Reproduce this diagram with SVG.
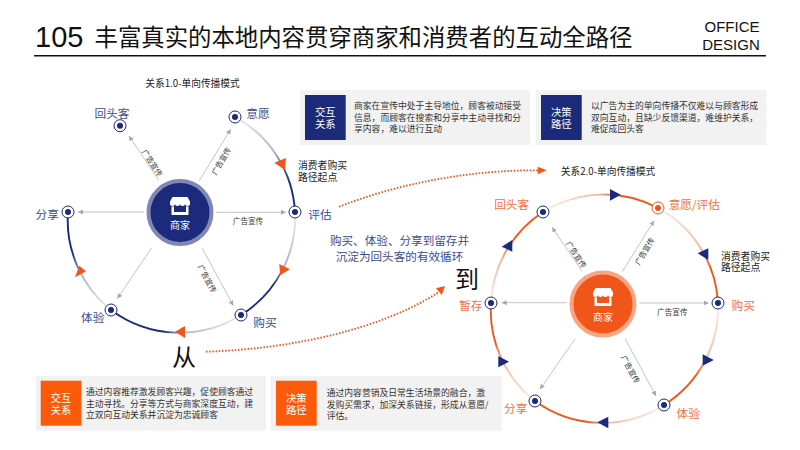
<svg xmlns="http://www.w3.org/2000/svg" width="800" height="450" viewBox="0 0 800 450">
<style>
text{font-family:"Liberation Sans","Noto Sans CJK SC",sans-serif}
.cn{font-family:"Noto Sans CJK SC","Liberation Sans",sans-serif}
.lab{font-size:11.7px;text-anchor:middle;dominant-baseline:central}
.nv{fill:#3d4b8f}
.or{fill:#f4703a}
.ad{font-size:7.6px;fill:#333;text-anchor:middle;dominant-baseline:central}
.spoke{stroke:#b5b5b5;stroke-width:.8;fill:none;marker-end:url(#g)}
.arc{fill:none;stroke-width:1.9}
.card{fill:#f2f2f2}
.body{font-size:8.8px;fill:#333}
.tag{font-size:10.4px;fill:#fff;text-anchor:middle}
.note{font-size:9.8px;fill:#222}
.dot{fill:none;stroke:#f0561a;stroke-width:1.8;stroke-dasharray:1.6 1.6}
</style>
<defs>
<marker id="g" markerUnits="userSpaceOnUse" markerWidth="6" markerHeight="6" refX="5" refY="2.5" orient="auto"><path d="M0 0L5 2.5L0 5Z" fill="#a8a8a8"/></marker>
<g id="store">
<path d="M-10 -7.5L-7.5 -12H7.5L10 -7.5V-5.5A2.5 2.5 0 0 1 5 -5.5A2.5 2.5 0 0 1 0 -5.5A2.5 2.5 0 0 1 -5 -5.5A2.5 2.5 0 0 1 -10 -5.5Z" fill="#fff"/>
<path d="M-8.5 -2.6V6H8.5V-2.6H6V3H-6V-2.6Z" fill="#fff"/>
</g>
<g id="mn"><circle r="6" fill="#fff" stroke="#1b2a7b" stroke-width="1"/><circle r="3" fill="#1b2a7b"/></g>
<g id="mo"><circle r="6" fill="#fff" stroke="#f0561a" stroke-width="1"/><circle r="3" fill="#f0561a"/></g>
<linearGradient id="n1" gradientUnits="userSpaceOnUse" x1="235" y1="117" x2="295" y2="212"><stop offset="0" stop-color="#eceef5"/><stop offset=".45" stop-color="#a9afcf"/><stop offset=".75" stop-color="#1b2a7b"/></linearGradient>
<linearGradient id="n2" gradientUnits="userSpaceOnUse" x1="295" y1="212" x2="241" y2="315"><stop offset="0" stop-color="#eceef5"/><stop offset=".45" stop-color="#a9afcf"/><stop offset=".65" stop-color="#1b2a7b"/></linearGradient>
<linearGradient id="n3" gradientUnits="userSpaceOnUse" x1="241" y1="315" x2="111" y2="310"><stop offset="0" stop-color="#eceef5"/><stop offset=".45" stop-color="#a9afcf"/><stop offset=".6" stop-color="#1b2a7b"/></linearGradient>
<linearGradient id="n4" gradientUnits="userSpaceOnUse" x1="111" y1="310" x2="68" y2="212"><stop offset="0" stop-color="#eceef5"/><stop offset=".4" stop-color="#a9afcf"/><stop offset=".65" stop-color="#1b2a7b"/></linearGradient>
<linearGradient id="o1" gradientUnits="userSpaceOnUse" x1="543" y1="212" x2="658" y2="208"><stop offset="0" stop-color="#fdeee6"/><stop offset=".5" stop-color="#f8b598"/><stop offset=".65" stop-color="#f0561a"/></linearGradient>
<linearGradient id="o2" gradientUnits="userSpaceOnUse" x1="658" y1="208" x2="718" y2="303"><stop offset="0" stop-color="#fdeee6"/><stop offset=".5" stop-color="#f8b598"/><stop offset=".7" stop-color="#f0561a"/></linearGradient>
<linearGradient id="o3" gradientUnits="userSpaceOnUse" x1="718" y1="303" x2="664" y2="405"><stop offset="0" stop-color="#fdeee6"/><stop offset=".5" stop-color="#f8b598"/><stop offset=".65" stop-color="#f0561a"/></linearGradient>
<linearGradient id="o4" gradientUnits="userSpaceOnUse" x1="664" y1="405" x2="535" y2="401"><stop offset="0" stop-color="#fdeee6"/><stop offset=".45" stop-color="#f8b598"/><stop offset=".6" stop-color="#f0561a"/></linearGradient>
<linearGradient id="o5" gradientUnits="userSpaceOnUse" x1="535" y1="401" x2="491" y2="303"><stop offset="0" stop-color="#fdeee6"/><stop offset=".45" stop-color="#f8b598"/><stop offset=".65" stop-color="#f0561a"/></linearGradient>
<linearGradient id="o6" gradientUnits="userSpaceOnUse" x1="491" y1="303" x2="543" y2="212"><stop offset="0" stop-color="#fdeee6"/><stop offset=".4" stop-color="#f8b598"/><stop offset=".65" stop-color="#f0561a"/></linearGradient>
</defs>
<rect width="800" height="450" fill="#fff"/>
<g id="header">
<text x="35" y="47" font-size="29" fill="#111">105</text>
<text x="94.5" y="46" class="cn" font-size="23.4" fill="#111">丰富真实的本地内容贯穿商家和消费者的互动全路径</text>
<text x="732" y="32" font-size="15" fill="#111" text-anchor="middle">OFFICE</text>
<text x="731" y="50" font-size="15" fill="#111" text-anchor="middle">DESIGN</text>
<rect x="34" y="55" width="732" height="1.5" fill="#111"/>
</g>
<g id="connectors">
<path class="arc" stroke="url(#n1)" d="M235 117A115 115 0 0 1 295 212"/>
<path class="arc" stroke="url(#n2)" d="M295 212A115 115 0 0 1 241 315"/>
<path class="arc" stroke="url(#n3)" d="M241 315A115 115 0 0 1 111 310"/>
<path class="arc" stroke="url(#n4)" d="M111 310A115 115 0 0 1 68 212"/>
<path class="arc" stroke="url(#o1)" d="M543 212A115 115 0 0 1 658 208"/>
<path class="arc" stroke="url(#o2)" d="M658 208A115 115 0 0 1 718 303"/>
<path class="arc" stroke="url(#o3)" d="M718 303A115 115 0 0 1 664 405"/>
<path class="arc" stroke="url(#o4)" d="M664 405A115 115 0 0 1 535 401"/>
<path class="arc" stroke="url(#o5)" d="M535 401A115 115 0 0 1 491 303"/>
<path class="arc" stroke="url(#o6)" d="M491 303A115 115 0 0 1 543 212"/>
<path class="spoke" d="M216 212.3H286"/>
<path class="spoke" d="M144 212H78"/>
<path class="spoke" d="M199.3 180.7L230.7 129.3"/>
<path class="spoke" d="M158.7 180L129 136"/>
<path class="spoke" d="M151.7 247.7L117.3 298.7"/>
<path class="spoke" d="M202.3 248.3L233.3 305.7"/>
<path class="spoke" d="M639.3 303H708.7"/>
<path class="spoke" d="M566.7 302.7H501.7"/>
<path class="spoke" d="M622.3 271.7L654 220.7"/>
<path class="spoke" d="M582 271L552 227.3"/>
<path class="spoke" d="M575 339L540 389.3"/>
<path class="spoke" d="M625.3 339L656 396"/>
<text class="ad cn" x="248" y="220.7">广告宣传</text>
<text class="ad cn" transform="translate(152.7 162.7) rotate(57)">广告宣传</text>
<text class="ad cn" transform="translate(220.7 160.7) rotate(-59)">广告宣传</text>
<text class="ad cn" transform="translate(207.7 278.3) rotate(62)">广告宣传</text>
<text class="ad cn" x="672.3" y="311">广告宣传</text>
<text class="ad cn" transform="translate(576.7 254.3) rotate(57)">广告宣传</text>
<text class="ad cn" transform="translate(644 251) rotate(-59)">广告宣传</text>
<text class="ad cn" transform="translate(631 369) rotate(62)">广告宣传</text>
<g fill="#f0561a">
<path d="M274.3 162.7L286 158L285 170Z"/>
<path d="M279.3 264L290 269.3L280 275.3Z"/>
<path d="M175 331.7L185 326V338Z"/>
<path d="M79.3 265.7L86 271.3L75 277.3Z"/>
</g>
<g fill="#1b2a7b">
<path d="M610 189L620.7 194.7L610 200.7Z"/>
<path d="M697.7 253.3L708.3 248.3V260Z"/>
<path d="M702.7 354.3L713.7 360L702.7 365.7Z"/>
<path d="M597.3 422.3L608.3 416.7V428.3Z"/>
<path d="M498.3 356L509 361.7L498.3 367.3Z"/>
<path d="M501.7 246.7L512.3 240V251.7Z"/>
</g>
<path class="dot" d="M339 206.7C400 183 470 170 538 170.3"/>
<path d="M546.7 170.3L537.7 166.7V174.3Z" fill="#f0561a"/>
<path class="dot" d="M206 351.7C290 349 380 330 439 292"/>
<path d="M445 286L441.7 295L436 288.3Z" fill="#f0561a"/>
</g>
<g id="merchant-1"><circle cx="180" cy="212.5" r="31.5" fill="#1b2a7b" stroke="#8087b5" stroke-width="4"/><use href="#store" x="180" y="209"/><text class="cn" x="180" y="224.3" font-size="10" fill="#fff" text-anchor="middle" dominant-baseline="central">商家</text></g>
<g id="merchant-2"><circle cx="603" cy="304" r="31.5" fill="#f0561a" stroke="#f9a583" stroke-width="4"/><use href="#store" x="603" y="300"/><text class="cn" x="603" y="316.7" font-size="10" fill="#fff" text-anchor="middle" dominant-baseline="central">商家</text></g>
<g id="n-huitou"><use href="#mn" x="120" y="125.7"/><text class="lab nv cn" x="112" y="112.7">回头客</text></g>
<g id="n-yiyuan"><use href="#mn" x="235" y="117"/><text class="lab nv cn" x="258" y="112">意愿</text></g>
<g id="n-pinggu"><use href="#mn" x="295" y="212"/><text class="lab nv cn" x="320" y="213">评估</text></g>
<g id="n-goumai"><use href="#mn" x="241" y="315"/><text class="lab nv cn" x="265" y="321.7">购买</text></g>
<g id="n-tiyan"><use href="#mn" x="111" y="310"/><text class="lab nv cn" x="92.7" y="316.7">体验</text></g>
<g id="n-fenxiang"><use href="#mn" x="68" y="212"/><text class="lab nv cn" x="47.3" y="213">分享</text></g>
<g id="m-huitou"><use href="#mn" x="543" y="212"/><text class="lab or cn" x="511.7" y="203.3">回头客</text></g>
<g id="m-yiyuan"><use href="#mo" x="658" y="208"/><text class="lab or cn" x="694.3" y="203.3">意愿/评估</text></g>
<g id="m-goumai"><use href="#mn" x="718" y="303"/><text class="lab or cn" x="743.3" y="304.3">购买</text></g>
<g id="m-tiyan"><use href="#mn" x="664" y="405"/><text class="lab or cn" x="688.3" y="412.3">体验</text></g>
<g id="m-fenxiang"><use href="#mn" x="535" y="401"/><text class="lab or cn" x="515.7" y="407.7">分享</text></g>
<g id="m-zancun"><use href="#mn" x="491" y="303"/><text class="lab or cn" x="470.7" y="304.3">暂存</text></g>
<g id="captions">
<text class="cn" x="192.5" y="83" font-size="9.7" fill="#222" text-anchor="middle" dominant-baseline="central">关系1.0-单向传播模式</text>
<text class="cn" x="608" y="171" font-size="9.7" fill="#222" text-anchor="middle" dominant-baseline="central">关系2.0-单向传播模式</text>
<text class="note cn"><tspan x="298" y="169">消费者购买</tspan><tspan x="298" y="181">路径起点</tspan></text>
<text class="note cn"><tspan x="721" y="259.5">消费者购买</tspan><tspan x="721" y="271">路径起点</tspan></text>
<text class="cn" font-size="11.6" fill="#3d4b8f" text-anchor="middle"><tspan x="399.5" y="245">购买、体验、分享到留存并</tspan><tspan x="399.5" y="261">沉淀为回头客的有效循环</tspan></text>
<text class="cn" x="184" y="366" font-size="24" fill="#111" text-anchor="middle">从</text>
<text class="cn" x="467" y="288" font-size="24" fill="#111" text-anchor="middle">到</text>
</g>
<g id="card-1"><rect class="card" x="300" y="90" width="230" height="55"/><rect x="305" y="95" width="40.7" height="45" fill="#1b2a7b"/><text class="tag cn"><tspan x="325.3" y="115.5">交互</tspan><tspan x="325.3" y="128">关系</tspan></text>
<text class="body cn"><tspan x="354" y="108.5">商家在宣传中处于主导地位，顾客被动接受</tspan><tspan x="354" y="120.5">信息，而顾客在搜索和分享中主动寻找和分</tspan><tspan x="354" y="132">享内容，难以进行互动</tspan></text></g>
<g id="card-2"><rect class="card" x="535.7" y="90" width="231" height="55"/><rect x="541" y="95" width="40.7" height="45" fill="#1b2a7b"/><text class="tag cn"><tspan x="561.3" y="115.5">决策</tspan><tspan x="561.3" y="128">路径</tspan></text>
<text class="body cn"><tspan x="591" y="108.5">以广告为主的单向传播不仅难以与顾客形成</tspan><tspan x="591" y="120.5">双向互动，且缺少反馈渠道，难维护关系，</tspan><tspan x="591" y="132">难促成回头客</tspan></text></g>
<g id="card-3"><rect class="card" x="35.7" y="376" width="230.5" height="54.7"/><rect x="40.7" y="380.7" width="40.7" height="45" fill="#fa5a0a"/><text class="tag cn"><tspan x="61" y="401.5">交互</tspan><tspan x="61" y="414">关系</tspan></text>
<text class="body cn"><tspan x="86" y="395">通过内容推荐激发顾客兴趣，促使顾客通过</tspan><tspan x="86" y="406.7">主动寻找。分享等方式与商家深度互动，建</tspan><tspan x="86" y="418.3">立双向互动关系并沉淀为忠诚顾客</tspan></text></g>
<g id="card-4"><rect class="card" x="270.7" y="376" width="231" height="54.7"/><rect x="276" y="380.7" width="40.7" height="45" fill="#fa5a0a"/><text class="tag cn"><tspan x="296.3" y="401.5">决策</tspan><tspan x="296.3" y="414">路径</tspan></text>
<text class="body cn"><tspan x="326.7" y="396">通过内容营销及日常生活场景的融合，激</tspan><tspan x="326.7" y="407.7">发购买需求，加深关系链接，形成从意愿/</tspan><tspan x="326.7" y="419.3">评估。</tspan></text></g>
</svg>
